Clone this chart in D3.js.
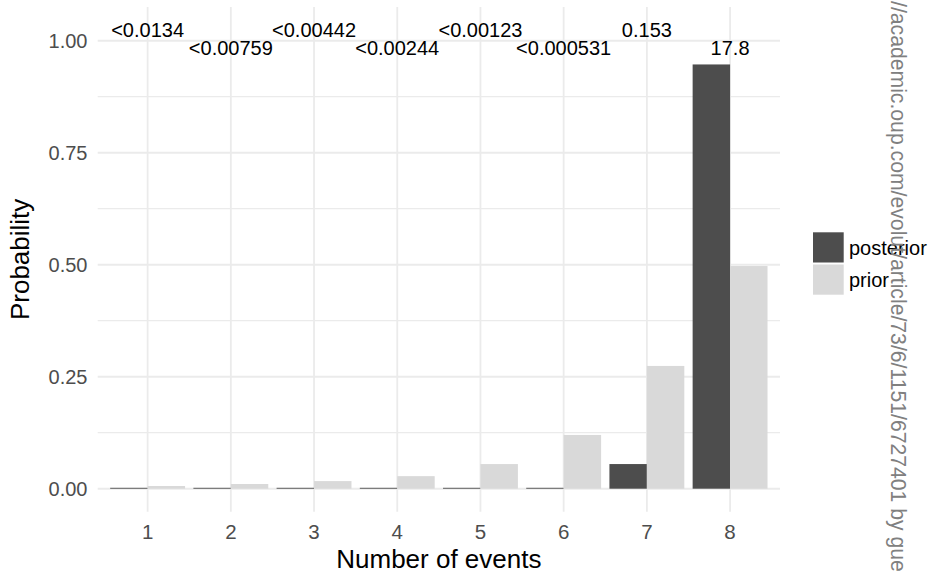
<!DOCTYPE html>
<html>
<head>
<meta charset="utf-8">
<script src="https://cdn.jsdelivr.net/npm/d3@7"></script>
<style>
  html, body { margin: 0; padding: 0; background: #ffffff; }
  svg { display: block; }
  text { font-family: "Liberation Sans", Arial, Helvetica, sans-serif; }
</style>
</head>
<body>
<svg id="chart" width="933" height="574"></svg>
<script>
// ---- data ----
const categories = ["1", "2", "3", "4", "5", "6", "7", "8"];
const seriesNames = ["posterior", "prior"];
const posterior = [0.002, 0.002, 0.002, 0.002, 0.002, 0.002, 0.055, 0.947];
const prior = [0.006, 0.0105, 0.017, 0.028, 0.055, 0.12, 0.274, 0.497];
const bfLabels = ["<0.0134", "<0.00759", "<0.00442", "<0.00244", "<0.00123", "<0.000531", "0.153", "17.8"];
const labelHeights = [1.024, 0.984, 1.024, 0.984, 1.024, 0.984, 1.024, 0.984];
const yTicks = [0, 0.25, 0.5, 0.75, 1];
const yMinorTicks = [0.125, 0.375, 0.625, 0.875];
const watermark = "//academic.oup.com/evolut/article/73/6/1151/6727401 by gue";

const colors = { posterior: "#4d4d4d", prior: "#d9d9d9" };

// ---- layout ----
const svg = d3.select("#chart");
const panel = { left: 97.7, right: 780, top: 7, bottom: 511.7 };

const x = d3.scaleBand().domain(categories)
  .range([panel.left, panel.right]).paddingInner(0).paddingOuter(0.1);
const y = d3.scaleLinear().domain([0, 1]).range([488.7, 40.7]);
const xs = d3.scaleBand().domain(seriesNames)
  .range([-0.45 * x.step(), 0.45 * x.step()]).padding(0);
const color = d3.scaleOrdinal().domain(seriesNames).range([colors.posterior, colors.prior]);

const grid = "#ebebeb";

// minor horizontal gridlines
svg.append("g").selectAll("line").data(yMinorTicks).join("line")
  .attr("x1", panel.left).attr("x2", panel.right)
  .attr("y1", d => y(d)).attr("y2", d => y(d))
  .attr("stroke", grid).attr("stroke-width", 1.2);

// major horizontal gridlines
svg.append("g").selectAll("line").data(yTicks).join("line")
  .attr("x1", panel.left).attr("x2", panel.right)
  .attr("y1", d => y(d)).attr("y2", d => y(d))
  .attr("stroke", grid).attr("stroke-width", 2);

// vertical gridlines
svg.append("g").selectAll("line").data(categories).join("line")
  .attr("x1", d => x(d) + x.bandwidth() / 2).attr("x2", d => x(d) + x.bandwidth() / 2)
  .attr("y1", panel.top).attr("y2", panel.bottom)
  .attr("stroke", grid).attr("stroke-width", 1.8);

// bars
const rows = categories.map((c, i) => ({ cat: c, posterior: posterior[i], prior: prior[i] }));
const groups = svg.append("g").selectAll("g").data(rows).join("g")
  .attr("transform", d => `translate(${x(d.cat) + x.bandwidth() / 2},0)`);
groups.selectAll("rect").data(d => seriesNames.map(s => ({ s, v: d[s] }))).join("rect")
  .attr("x", d => xs(d.s))
  .attr("width", xs.bandwidth())
  .attr("y", d => y(d.v))
  .attr("height", d => y(0) - y(d.v))
  .attr("fill", d => color(d.s));

// Bayes factor labels
svg.append("g").selectAll("text").data(bfLabels).join("text")
  .attr("x", (d, i) => x(categories[i]) + x.bandwidth() / 2)
  .attr("y", (d, i) => y(labelHeights[i]))
  .attr("dy", "0.358em")
  .attr("text-anchor", "middle")
  .attr("font-size", 20)
  .attr("fill", "#000000")
  .text(d => d);

// y axis tick labels
svg.append("g").selectAll("text").data(yTicks).join("text")
  .attr("x", 87.5)
  .attr("y", d => y(d))
  .attr("dy", "0.358em")
  .attr("text-anchor", "end")
  .attr("font-size", 20)
  .attr("fill", "#4d4d4d")
  .text(d => d3.format(".2f")(d));

// x axis tick labels
svg.append("g").selectAll("text").data(categories).join("text")
  .attr("x", d => x(d) + x.bandwidth() / 2)
  .attr("y", 539.3)
  .attr("text-anchor", "middle")
  .attr("font-size", 20.5)
  .attr("fill", "#4d4d4d")
  .text(d => d);

// axis titles
svg.append("text")
  .attr("x", (panel.left + panel.right) / 2)
  .attr("y", 568)
  .attr("text-anchor", "middle")
  .attr("font-size", 26)
  .attr("fill", "#000000")
  .text("Number of events");

svg.append("text")
  .attr("transform", `translate(29,${(panel.top + panel.bottom) / 2}) rotate(-90)`)
  .attr("text-anchor", "middle")
  .attr("font-size", 26)
  .attr("fill", "#000000")
  .text("Probability");

// legend
const legend = svg.append("g").attr("transform", "translate(813,232.3)");
const lg = legend.selectAll("g").data(seriesNames).join("g")
  .attr("transform", (d, i) => `translate(0,${i * 32.2})`);
lg.append("rect").attr("width", 30.7).attr("height", 30.2).attr("fill", d => color(d));
lg.append("text")
  .attr("x", 36).attr("y", 15.1).attr("dy", "0.358em")
  .attr("font-size", 20).attr("fill", "#000000")
  .text(d => d);

// watermark
svg.append("text")
  .attr("transform", "translate(891,1) rotate(90)")
  .attr("text-anchor", "start")
  .attr("font-size", 21.2)
  .attr("fill", "#808080")
  .text(watermark);
</script>
</body>
</html>
